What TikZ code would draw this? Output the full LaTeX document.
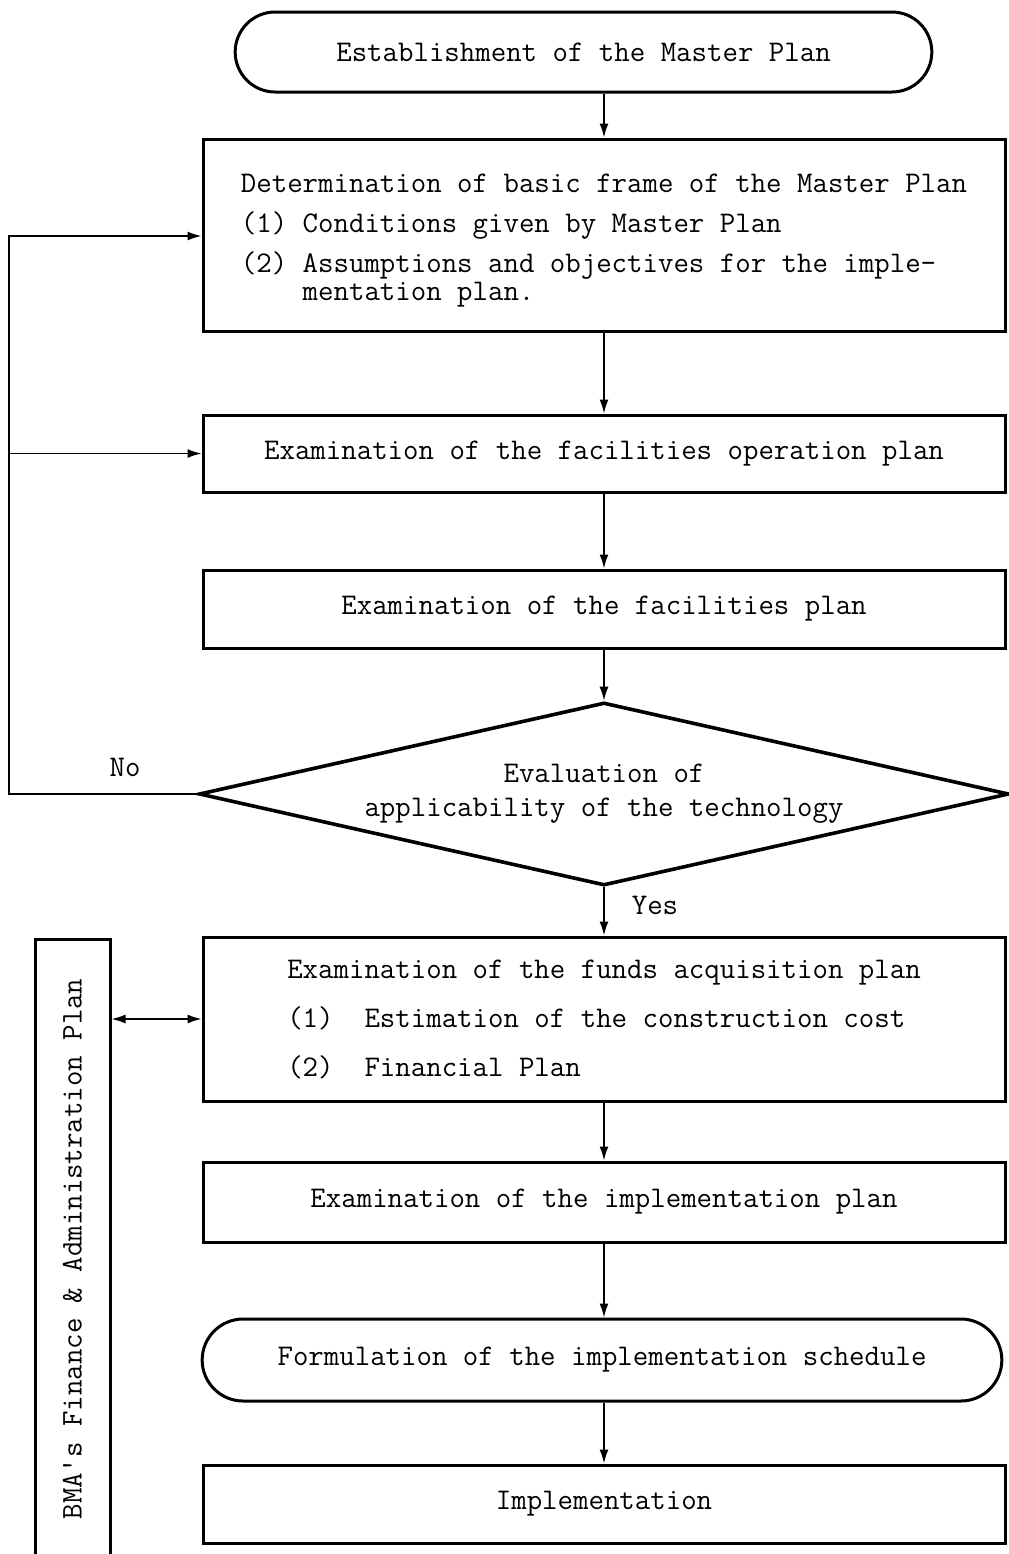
\documentclass[tikz,border=0pt]{standalone}
\usepackage{tikz}
\usetikzlibrary{arrows.meta,shapes.geometric,shapes.misc}

\begin{document}
\begin{tikzpicture}[x=0.5pt,y=-0.5pt,>={Latex[length=7pt,width=4.5pt]}]

\tikzstyle{every node}=[font=\ttfamily\fontsize{15}{17}\selectfont]
\tikzstyle{stepbox}=[draw,line width=1.5pt,rectangle,minimum width=401pt,align=left]
\tikzstyle{termbox}=[draw,line width=1.5pt,rounded rectangle,align=center]
\tikzstyle{decision}=[draw,line width=1.8pt,diamond,inner sep=0pt,shape aspect=4.4,minimum width=405pt,minimum height=91.5pt,align=center]
\tikzstyle{flow}=[->,line width=0.8pt]

\useasboundingbox (0,0) rectangle (1008,1554);

%start of the chart
\node[termbox,minimum width=355pt,minimum height=40pt] (start) at (583.5,52) {Establishment of the Master Plan};

%basic frame
\node[stepbox,minimum height=96pt] (frame) at (604,235) {\rule{0pt}{15pt}Determination of basic frame of the Master Plan\\[3pt]
  (1) Conditions given by Master Plan\\[3pt]
  (2) Assumptions and objectives for the imple-\\[-3pt]
  \hphantom{(2)~}mentation plan.};

%operation and facilities
\node[stepbox,minimum height=38.5pt] (ops) at (604,453.5) {Examination of the facilities operation plan};
\node[stepbox,minimum height=39pt]   (fac) at (604,609)   {Examination of the facilities plan};

%check
\node[decision] (dec) at (604,794) {Evaluation of\\applicability of the technology};
\node (no)  at (125,767) {No};
\node (yes) at (655,905) {Yes};

%funds
\node[stepbox,minimum height=82pt] (fund) at (604,1019) {Examination of the funds acquisition plan\\[7.5pt]
  (1)~~Estimation of the construction cost\\[7.5pt]
  (2)~~Financial Plan};

%BMA side box, runs off the page
\node[draw,line width=1.5pt,rotate=90,minimum width=310pt,minimum height=37.5pt] (bma) at (72.5,1249) {BMA's Finance \& Administration Plan};

%implementation
\node[stepbox,minimum height=40pt] (impl)  at (604,1202) {Examination of the implementation plan};
\node[termbox,minimum width=406.5pt,minimum height=41pt] (sched) at (602,1360) {Formulation of the implementation schedule};
\node[stepbox,minimum height=39pt] (done)  at (604,1504) {Implementation};

%main column
\path [flow] (start.south -| frame.north) edge (frame.north)
      [flow] (frame) edge (ops)
      [flow] (ops) edge (fac)
      [flow] (fac) edge (dec)
      [flow] (dec) edge (fund)
      [flow] (fund) edge (impl)
      [flow] (impl) edge (sched.north -| impl.south)
      [flow] (sched.south -| done.north) edge (done);

%back when No
\coordinate (loop) at (9,236);
\draw [flow] (dec.west) -| (loop) -- (loop -| frame.west);
\draw [flow] (loop |- ops.west) -- (ops.west);

%to and from BMA
\draw [flow,<->] (bma.south |- fund.west) -- (fund.west);

\end{tikzpicture}
\end{document}
